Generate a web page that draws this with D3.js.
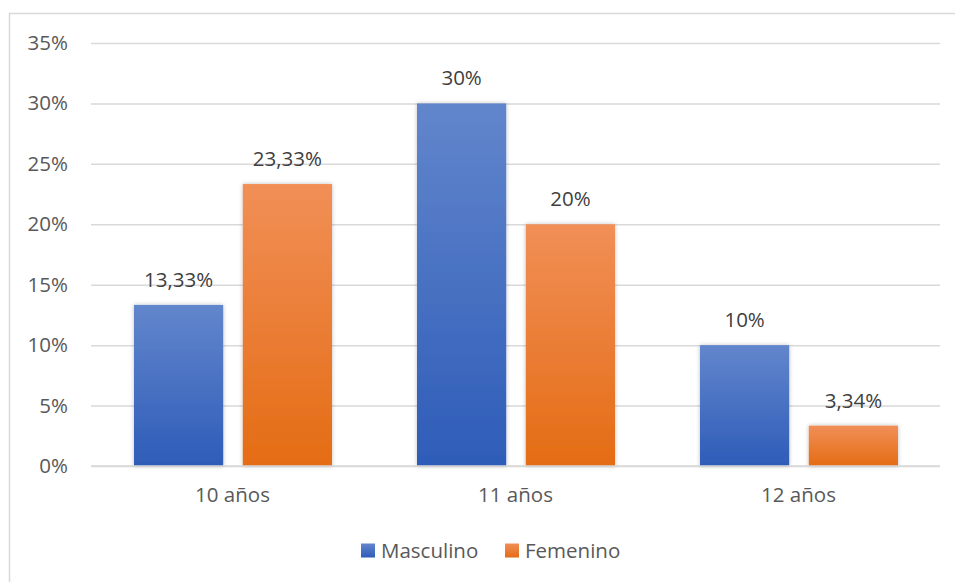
<!DOCTYPE html>
<html><head><meta charset="utf-8">
<script src="https://cdn.jsdelivr.net/npm/d3@7"></script>
<style>body{margin:0;background:#fff;} svg{display:block;}</style>
</head><body>
<svg id="c" width="955" height="582"></svg>
<script>
const categories = ["10 años", "11 años", "12 años"];
const seriesNames = ["Masculino", "Femenino"];
const masculino = [13.33, 30, 10];
const femenino = [23.33, 20, 3.34];
const valueLabels = [["13,33%", "30%", "10%"], ["23,33%", "20%", "3,34%"]];
const yTicks = [0, 5, 10, 15, 20, 25, 30, 35];

(function(){
const W = 955, H = 582;
const FONT = "'Open Sans', sans-serif";
const FS = 20.5;
const svg = d3.select("#c");
const defs = svg.append("defs");

const grads = [
  {id: "gBlue", c1: "#6286cc", c2: "#2e5cb8"},
  {id: "gOrange", c1: "#f18f57", c2: "#e46c14"}
];
grads.forEach(g => {
  const lg = defs.append("linearGradient").attr("id", g.id).attr("x1", 0).attr("y1", 0).attr("x2", 0).attr("y2", 1);
  lg.append("stop").attr("offset", "0%").attr("stop-color", g.c1);
  lg.append("stop").attr("offset", "100%").attr("stop-color", g.c2);
});
const f = defs.append("filter").attr("id", "sh").attr("x", "-20%").attr("y", "-20%").attr("width", "140%").attr("height", "140%");
f.append("feDropShadow").attr("dx", 0).attr("dy", 0).attr("stdDeviation", 2).attr("flood-color", "#000").attr("flood-opacity", 0.25);

// chart border
svg.append("rect").attr("x", 9.5).attr("y", 13.5).attr("width", W + 10).attr("height", H + 10)
  .attr("fill", "none").attr("stroke", "#d9d9d9").attr("stroke-width", 1.5);

const pL = 91, pR = 940, pT = 43, pB = 466;
const y = d3.scaleLinear().domain([0, 35]).range([pB, pT]);
const x0 = d3.scaleBand().domain(categories).range([pL, pR]).paddingInner(0).paddingOuter(0);
const x1 = d3.scaleBand().domain(seriesNames).range([43, x0.bandwidth() - 42]).paddingInner(0.18).paddingOuter(0);

// gridlines
const grid = svg.append("g").attr("transform", `translate(${pL},0)`)
  .call(d3.axisLeft(y).tickValues(yTicks).tickSize(-(pR - pL)).tickFormat(""));
grid.select(".domain").remove();
grid.selectAll(".tick line").attr("stroke", "#d9d9d9").attr("stroke-width", 1.5);

// y labels
const yAx = svg.append("g").attr("transform", `translate(${pL},0)`)
  .call(d3.axisLeft(y).tickValues(yTicks).tickSize(0).tickPadding(23).tickFormat(d => d + "%"));
yAx.select(".domain").remove();
yAx.selectAll("text").attr("font-family", FONT).attr("font-size", FS).attr("fill", "#595959");

const data = [masculino, femenino];
const groups = svg.append("g");
seriesNames.forEach((s, si) => {
  const vals = data[si];
  groups.selectAll(".bar" + si).data(vals).enter().append("rect")
    .attr("x", (d, i) => x0(categories[i]) + x1(s))
    .attr("y", d => y(d))
    .attr("width", x1.bandwidth())
    .attr("height", d => y(0) - y(d))
    .attr("fill", `url(#${grads[si].id})`)
    .attr("filter", "url(#sh)");
  groups.selectAll(".lab" + si).data(vals).enter().append("text")
    .attr("x", (d, i) => x0(categories[i]) + x1(s) + x1.bandwidth() / 2)
    .attr("y", d => y(d) - 18)
    .attr("text-anchor", "middle")
    .attr("font-family", FONT).attr("font-size", FS).attr("fill", "#404040")
    .text((d, i) => valueLabels[si][i]);
});

// x axis line
svg.append("line").attr("x1", pL).attr("x2", pR).attr("y1", pB).attr("y2", pB)
  .attr("stroke", "#d9d9d9").attr("stroke-width", 1.5);

const xAx = svg.append("g").attr("transform", `translate(0,${pB})`)
  .call(d3.axisBottom(x0).tickSize(0).tickPadding(21));
xAx.select(".domain").remove();
xAx.selectAll("text").attr("font-family", FONT).attr("font-size", FS).attr("fill", "#595959");

// legend
const legItems = [{x: 361, tx: 381}, {x: 505, tx: 525}];
seriesNames.forEach((s, si) => {
  svg.append("rect").attr("x", legItems[si].x).attr("y", 543.5).attr("width", 14).attr("height", 14)
    .attr("fill", `url(#${grads[si].id})`);
  svg.append("text").attr("x", legItems[si].tx).attr("y", 557.5)
    .attr("font-family", FONT).attr("font-size", FS).attr("fill", "#595959").text(s);
});
})();
</script>
</body></html>
